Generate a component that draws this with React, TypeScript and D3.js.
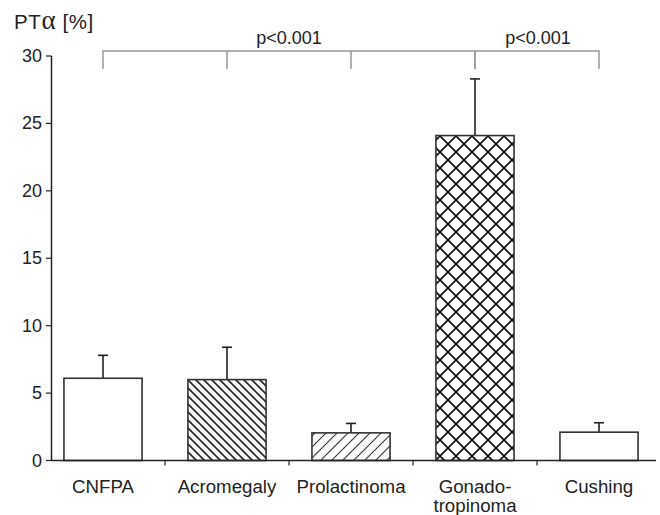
import React from "react";
import * as d3 from "d3";

const categories = ["CNFPA", "Acromegaly", "Prolactinoma", "Gonado-tropinoma", "Cushing"];
const labelLines = [["CNFPA"], ["Acromegaly"], ["Prolactinoma"], ["Gonado-", "tropinoma"], ["Cushing"]];
const means = [6.1, 6.0, 2.05, 24.1, 2.1];
const errTops = [7.8, 8.4, 2.75, 28.3, 2.8];
const fills = ["white", "url(#back)", "url(#fwd)", "url(#cross)", "white"];
const yTicks = [0, 5, 10, 15, 20, 25, 30];
const brackets = [
  { from: 0, to: 3, mids: [1, 2], label: "p<0.001" },
  { from: 3, to: 4, mids: [], label: "p<0.001" },
];

export default function App() {
  const W = 660, H = 515;
  const y = d3.scaleLinear().domain([0, 30]).range([460.5, 56]);
  const x = d3.scaleBand<string>().domain(categories).range([41, 661]).paddingInner(0.37).paddingOuter(0.185);
  const bw = x.bandwidth();
  const step = x.step();
  const cx = (i: number) => (x(categories[i]) as number) + bw / 2;
  const font = "Liberation Sans, Arial, sans-serif";
  const bY = 51, bDrop = 18;
  return (
    <svg width={W} height={H} style={{ position: "absolute", left: 0, top: 0 }} fontFamily={font}>
      <defs>
        <pattern id="back" patternUnits="userSpaceOnUse" width="8" height="8">
          <path d="M-2,-2 L10,10 M-2,6 L2,10 M6,-2 L10,2" stroke="#222" strokeWidth="1.6" />
        </pattern>
        <pattern id="fwd" patternUnits="userSpaceOnUse" width="11" height="11">
          <path d="M-2,13 L13,-2 M-2,2 L2,-2 M9,13 L13,9" stroke="#333" strokeWidth="1.1" />
        </pattern>
        <pattern id="cross" patternUnits="userSpaceOnUse" width="16" height="16">
          <path d="M-2,-2 L18,18 M-2,18 L18,-2 M-2,14 L2,18 M14,-2 L18,2 M-2,2 L2,-2 M14,18 L18,14" stroke="#111" strokeWidth="1.7" />
        </pattern>
      </defs>
      <rect width={W} height={H} fill="white" />
      <text x={14} y={28.5} fontSize={20.5} fill="#222" letterSpacing={0.6}>PT<tspan fontFamily="Liberation Serif, serif" fontSize={27}>α</tspan> [%]</text>
      {/* y axis */}
      <line x1={51.5} x2={51.5} y1={y(30)} y2={y(0)} stroke="#222" strokeWidth={1.5} />
      {yTicks.map((t) => (
        <g key={t}>
          <line x1={46} x2={51.5} y1={y(t)} y2={y(t)} stroke="#222" strokeWidth={1.2} />
          <text x={42} y={y(t) + 6} fontSize={18} textAnchor="end" fill="#222">{t}</text>
        </g>
      ))}
      {/* bars */}
      {categories.map((c, i) => (
        <g key={c}>
          <line x1={cx(i)} x2={cx(i)} y1={y(means[i])} y2={y(errTops[i])} stroke="#222" strokeWidth={1.6} />
          <line x1={cx(i) - 5} x2={cx(i) + 5} y1={y(errTops[i])} y2={y(errTops[i])} stroke="#222" strokeWidth={1.6} />
          <rect x={x(c)} y={y(means[i])} width={bw} height={y(0) - y(means[i])} fill={fills[i]} stroke="#333" strokeWidth={1.6} />
        </g>
      ))}
      {/* x axis */}
      <line x1={51} x2={656} y1={y(0)} y2={y(0)} stroke="#222" strokeWidth={1.5} />
      {categories.slice(1).map((c) => (
        <line key={c} x1={(x(c) as number) - (step - bw) / 2} x2={(x(c) as number) - (step - bw) / 2} y1={y(0)} y2={y(0) + 5} stroke="#222" strokeWidth={1.2} />
      ))}
      {labelLines.map((ls, i) => (
        <text key={i} x={cx(i)} y={493} fontSize={18.7} textAnchor="middle" fill="#222">
          {ls.map((l, k) => (
            <tspan key={k} x={cx(i)} dy={k === 0 ? 0 : 19}>{l}</tspan>
          ))}
        </text>
      ))}
      {/* brackets */}
      {brackets.map((b, j) => (
        <g key={j} stroke="#999" strokeWidth={1.5} fill="none">
          <path d={`M${cx(b.from)},${bY + bDrop} V${bY} H${cx(b.to)} V${bY + bDrop}`} />
          {b.mids.map((m) => (
            <line key={m} x1={cx(m)} x2={cx(m)} y1={bY} y2={bY + bDrop} />
          ))}
        </g>
      ))}
      <text x={289} y={44} fontSize={18} textAnchor="middle" fill="#222">{brackets[0].label}</text>
      <text x={538} y={44} fontSize={18} textAnchor="middle" fill="#222">{brackets[1].label}</text>
    </svg>
  );
}
